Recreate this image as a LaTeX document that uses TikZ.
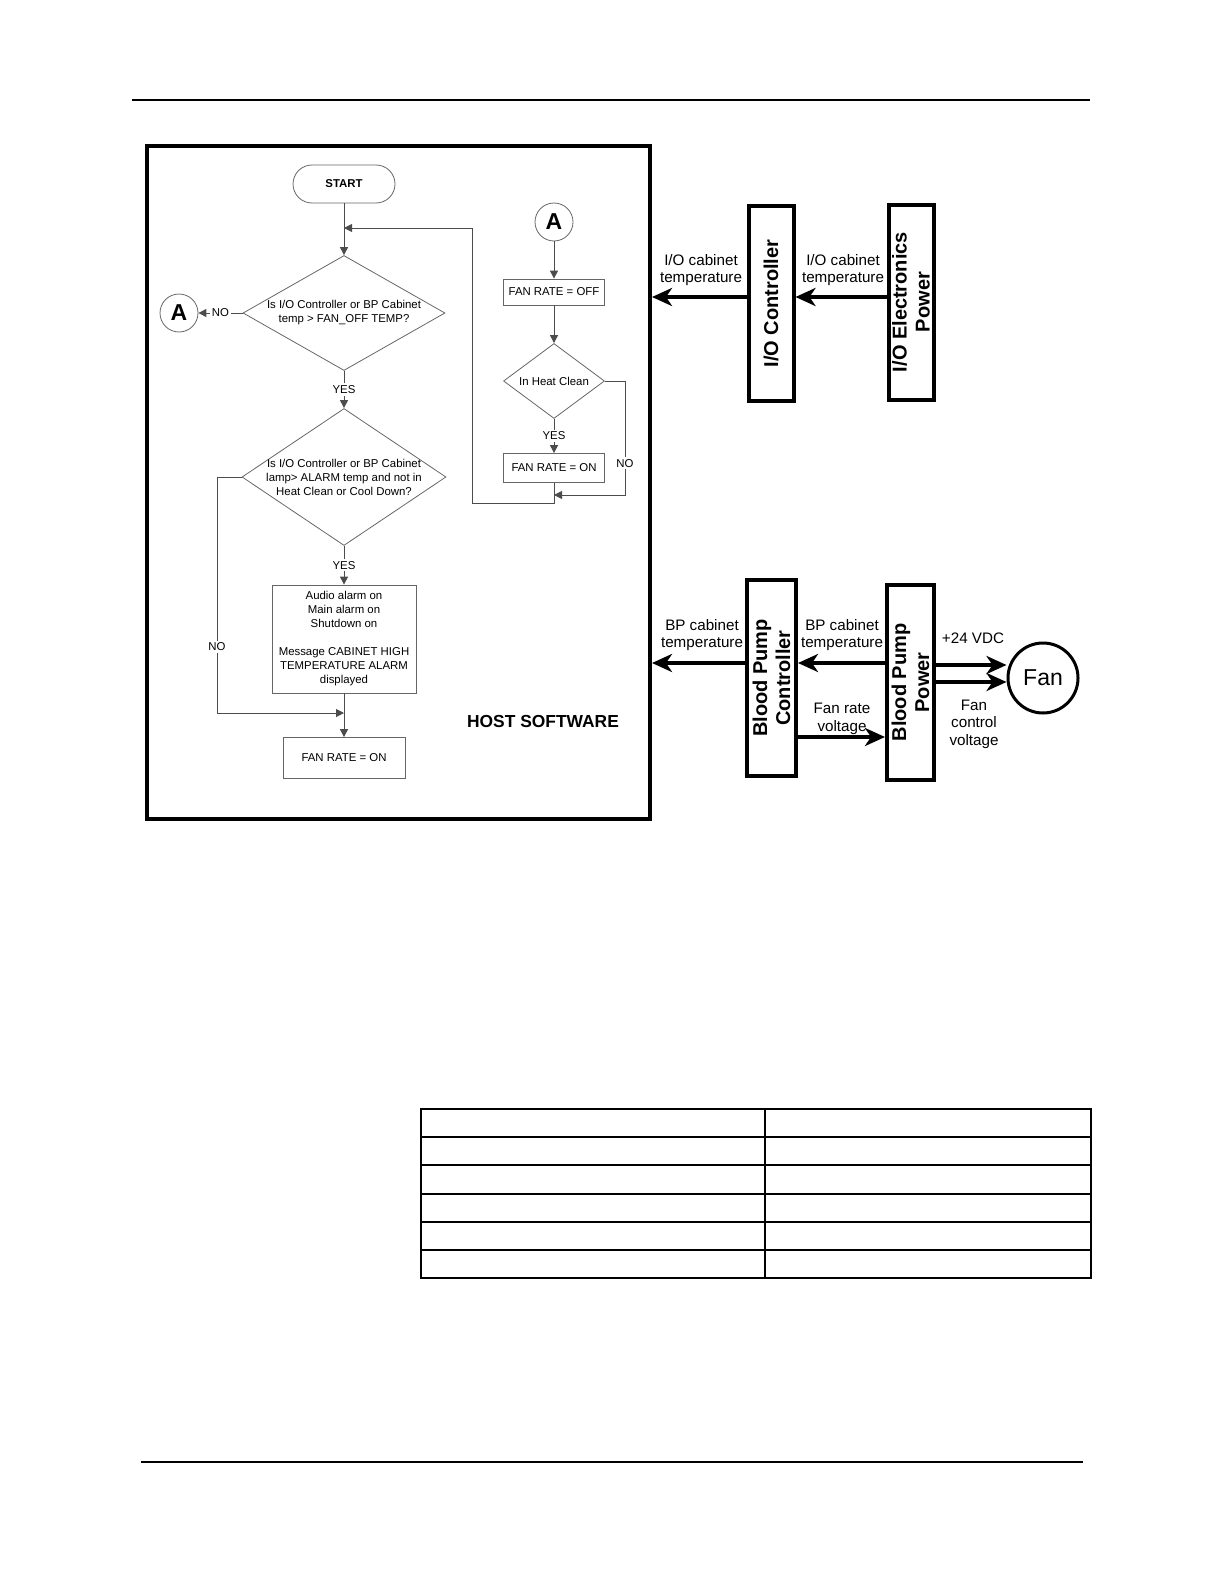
\documentclass[tikz,border=0pt]{standalone}
\usepackage{fontspec}
\setmainfont{Liberation Sans}
\usepackage{tikz}
\usetikzlibrary{arrows.meta, positioning, shapes.geometric, calc}

\begin{document}
\begin{tikzpicture}[
  x=0.5pt, y=-0.5pt,
  ftxt/.style={font=\fontsize{5.7}{7}\selectfont, align=center},
  fterm/.style={rectangle, draw=black!60, rounded corners=9.5pt,
    minimum width=51pt, minimum height=19pt,
    font=\fontsize{5.7}{7}\selectfont\bfseries},
  fbox/.style={rectangle, draw=black!60, ftxt, inner sep=1pt},
  fdec/.style={diamond, draw=black!60, inner sep=0pt},
  fcon/.style={circle, draw=black!60, minimum size=19pt, inner sep=0pt,
    font=\fontsize{11.5}{13}\selectfont\bfseries},
  fline/.style={draw=black!70, line width=0.5pt},
  farrow/.style={fline, -{Triangle[length=4pt,width=4pt]}},
  flbl/.style={ftxt, fill=white, inner sep=1pt},
  hwbox/.style={rectangle, draw, line width=2pt, inner sep=0pt},
  hwtxt/.style={rotate=90, align=center, inner sep=0pt,
    font=\fontsize{10}{11.5}\selectfont\bfseries},
  sig/.style={line width=2pt, -{Stealth[length=10pt,width=9pt,inset=3pt]}},
  slbl/.style={font=\fontsize{7.6}{8.7}\selectfont, align=center, inner sep=0pt}
]
  \useasboundingbox (0,0) rectangle (1224,1584);

  %% page rules
  \draw[line width=1pt] (132,100.5) -- (1090,100.5);
  \draw[line width=0.7pt] (141,1462) -- (1083,1462);

  %% host software frame
  \node[draw, line width=2pt, minimum width=251.75pt, minimum height=336.5pt,
    inner sep=0pt] (host) at (398.25,482.5) {};
  \node[font=\fontsize{8.7}{10}\selectfont\bfseries] (hostlbl) at (543,722)
    {HOST SOFTWARE};

  %% main flow
  \node[fterm] (start) at (344,184) {START};
  \node[fdec, minimum width=101pt, minimum height=57.5pt,
    label={[ftxt]center:{Is I/O Controller or BP Cabinet\\temp > FAN\_OFF TEMP?}}]
    (d1) at (344,313) {};
  \node[fcon] (ca1) at (179,313) {A};
  \node[fdec, minimum width=102pt, minimum height=68.5pt,
    label={[ftxt]center:{Is I/O Controller or BP Cabinet\\lamp> ALARM temp and not in\\Heat Clean or Cool Down?}}]
    (d2) at (344,477) {};
  \node[fbox, minimum width=72pt, minimum height=54pt] (alarm) at (344,639)
    {Audio alarm on\\Main alarm on\\Shutdown on\\[7pt]Message CABINET HIGH\\TEMPERATURE ALARM\\displayed};
  \node[fbox, minimum width=61pt, minimum height=20.5pt] (fon1) at (344,758)
    {FAN RATE = ON};

  %% connector A branch
  \node[fcon] (ca2) at (554,222) {A};
  \node[fbox, minimum width=50.5pt, minimum height=13pt] (foff) at (554,292)
    {FAN RATE = OFF};
  \node[fdec, minimum width=50.5pt, minimum height=37.5pt,
    label={[ftxt]center:In Heat Clean}] (d3) at (554,381) {};
  \node[fbox, minimum width=50.5pt, minimum height=14.5pt] (fon2) at (554,468)
    {FAN RATE = ON};

  \coordinate (loopin) at (344,228);
  \coordinate (loopc) at (472,503);
  \coordinate (nocor) at (217,713);
  \coordinate (mrg) at (344,713);
  \coordinate (nocor2) at (625,495);

  \draw[farrow] (start) -- (d1);
  \draw[farrow] (d1.west) -- node[flbl] {NO} (ca1);
  \draw[farrow] (d1) -- node[flbl] {YES} (d2);
  \draw[farrow] (d2) -- node[flbl] {YES} (alarm);
  \draw[farrow] (alarm) -- (fon1);
  \draw[farrow] (d2.west) -| node[flbl, pos=0.86] {NO} (nocor) -- (mrg);

  \draw[farrow] (ca2) -- (foff);
  \draw[farrow] (foff) -- (d3);
  \draw[farrow] (d3) -- node[flbl] {YES} (fon2);
  \draw[farrow] (d3.east) -| node[flbl, pos=0.86] {NO} (nocor2)
    -- (fon2.south |- nocor2);
  \draw[farrow] (fon2.south) |- (loopc) |- (loopin);

  %% hardware blocks
  \node[hwbox, minimum width=22.5pt, minimum height=97.5pt,
    label={[hwtxt]center:I/O Controller}] (IOC) at (771,303.5) {};
  \node[hwbox, minimum width=22.5pt, minimum height=97.5pt,
    label={[hwtxt]center:I/O Electronics\\Power}] (IOEP) at (911,302) {};
  \node[hwbox, minimum width=24.5pt, minimum height=98pt,
    label={[hwtxt]center:Blood Pump\\Controller}] (BPC) at (771.5,678) {};
  \node[hwbox, minimum width=23.5pt, minimum height=97.5pt,
    label={[hwtxt]center:Blood Pump\\Power}] (BPP) at (910.5,682.5) {};
  \node[circle, draw, line width=1.5pt, minimum size=35pt, inner sep=0pt,
    font=\fontsize{11.5}{13}\selectfont] (Fan) at (1043,678) {Fan};

  \coordinate (ioy) at (0,297);
  \coordinate (bpy) at (0,663);
  \coordinate (fry) at (0,737);
  \coordinate (f1y) at (0,665);
  \coordinate (f2y) at (0,682);

  \draw[sig] (IOEP.west |- ioy) -- (IOC.east |- ioy);
  \draw[sig] (IOC.west |- ioy) -- (host.east |- ioy);
  \draw[sig] (BPP.west |- bpy) -- (BPC.east |- bpy);
  \draw[sig] (BPC.west |- bpy) -- (host.east |- bpy);
  \draw[sig] (BPC.east |- fry) -- (BPP.west |- fry);
  \draw[sig] (BPP.east |- f1y) -- (Fan.west |- f1y);
  \draw[sig] (BPP.east |- f2y) -- (Fan.west |- f2y);

  \node[slbl] (lio1) at (701,270) {I/O cabinet\\temperature};
  \node[slbl] (lio2) at (843,270) {I/O cabinet\\temperature};
  \node[slbl] (lbp1) at (702,635) {BP cabinet\\temperature};
  \node[slbl] (lbp2) at (842,635) {BP cabinet\\temperature};
  \node[slbl] (lfr) at (842,719) {Fan rate\\voltage};
  \node[slbl] (lvdc) at (973,638) {+24 VDC};
  \node[slbl] (lfc) at (974,724) {Fan\\control\\voltage};

  %% empty table
  \draw[line width=0.6pt] (421,1109) rectangle (1091,1278);
  \draw[line width=0.6pt] (765,1109) -- (765,1278);
  \foreach \ty in {1137,1165,1194,1222,1250}
    \draw[line width=0.6pt] (421,\ty) -- (1091,\ty);
\end{tikzpicture}
\end{document}
